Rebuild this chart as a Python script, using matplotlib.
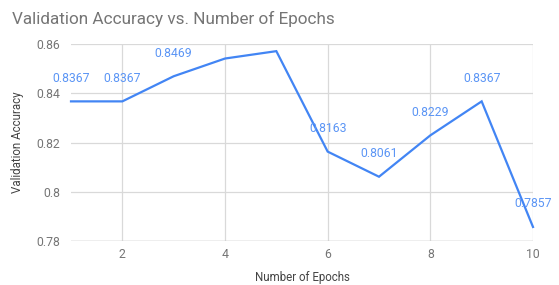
import matplotlib.pyplot as plt

epochs = [1, 2, 3, 4, 5, 6, 7, 8, 9, 10]
accuracy = [0.8367, 0.8367, 0.8469, 0.8541, 0.8571, 0.8163, 0.8061, 0.8229, 0.8367, 0.7857]
# Google Sheets hides labels for epochs 4 and 5
show_label = [True, True, True, False, False, True, True, True, True, True]

plt.rcParams["font.family"] = ["Roboto", "DejaVu Sans"]

fig = plt.figure(figsize=(5.59, 2.85), dpi=100)
ax = fig.add_axes([71 / 559, 1 - 241 / 285, 462 / 559, 197 / 285])

ax.plot(epochs, accuracy, color="#4285f4", lw=1.6, solid_joinstyle="miter", zorder=3, clip_on=False)

for x, y, s in zip(epochs, accuracy, show_label):
    if s:
        ax.annotate(f"{y:.4f}", (x, y), xytext=(0, 12), textcoords="offset points",
                    ha="center", va="bottom", fontsize=8.8, color="#5b95f5", zorder=4,
                    annotation_clip=False)

ax.set_xlim(1, 10)
ax.set_ylim(0.78, 0.86)
ax.set_xticks([2, 4, 6, 8, 10])
ax.set_yticks([0.78, 0.80, 0.82, 0.84, 0.86])
ax.set_yticklabels(["0.78", "0.8", "0.82", "0.84", "0.86"])
ax.grid(True, color="#d9d9d9", lw=0.9)
ax.set_axisbelow(True)
for sp in ax.spines.values():
    sp.set_visible(False)
ax.axhline(0.78, color="#bdbdbd", lw=1.0, zorder=1)
ax.tick_params(length=0, labelsize=8.8, labelcolor="#757575")
ax.tick_params(axis="x", pad=5)
ax.tick_params(axis="y", pad=8)

ax.set_ylabel("Validation Accuracy", fontsize=8.3, color="#444444", labelpad=9)
# x label sits right at the bottom edge, like the reference
fig.text(302 / 559, 1 - 281 / 285, "Number of Epochs", fontsize=8.3, color="#444444",
         ha="center", va="baseline")

fig.text(12 / 559, 1 - 19 / 285, "Validation Accuracy vs. Number of Epochs",
         fontsize=12.3, color="#757575", va="center", ha="left")

fig.savefig("out.png", dpi=100)
